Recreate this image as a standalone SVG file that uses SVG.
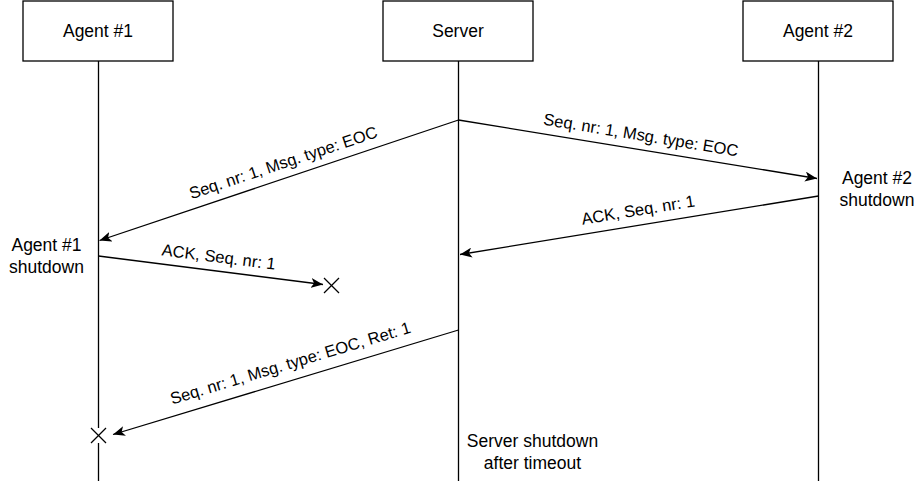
<svg xmlns="http://www.w3.org/2000/svg" width="923" height="483" viewBox="0 0 923 483">
  <style>
    .box { fill: #ffffff; stroke: #000000; stroke-width: 1.3; }
    .life { fill: none; stroke: #000000; stroke-width: 1.3; }
    .msg { fill: none; stroke: #000000; stroke-width: 1.3; marker-end: url(#arrow); }
    .xmark { fill: none; stroke: #000000; stroke-width: 1.3; }
    .t { font-family: "Liberation Sans", Arial, Helvetica, sans-serif; font-size: 17.5px; fill: #000000; text-anchor: middle; }
    .lbl { font-family: "Liberation Sans", Arial, Helvetica, sans-serif; font-size: 16.5px; fill: #000000; text-anchor: middle; }
  </style>
  <defs>
    <marker id="arrow" viewBox="0 0 12 10" refX="12" refY="5" markerWidth="12" markerHeight="10" markerUnits="userSpaceOnUse" orient="auto">
      <path d="M0,0 L12,5 L0,10 L3,5 Z" fill="#000000"/>
    </marker>
  </defs>
  <rect width="923" height="483" fill="#ffffff"/>

  <g id="agent1">
    <rect class="box" x="23" y="1" width="150" height="60"/>
    <text class="t" x="98" y="37">Agent #1</text>
    <line class="life" x1="98.5" y1="61" x2="98.5" y2="428"/>
    <line class="life" x1="98.5" y1="443" x2="98.5" y2="481"/>
  </g>
  <g id="server">
    <rect class="box" x="383" y="1" width="150" height="60"/>
    <text class="t" x="458" y="37">Server</text>
    <line class="life" x1="458.5" y1="61" x2="458.5" y2="481"/>
  </g>
  <g id="agent2">
    <rect class="box" x="743" y="1" width="150" height="60"/>
    <text class="t" x="818" y="37">Agent #2</text>
    <line class="life" x1="818.5" y1="61" x2="818.5" y2="481"/>
  </g>

  <g id="connectors">
    <line class="msg" x1="458.5" y1="120" x2="99.5" y2="240.5"/>
    <line class="msg" x1="458.5" y1="120" x2="817" y2="178.5"/>
    <line class="msg" x1="818.5" y1="196" x2="460" y2="254.5"/>
    <line class="msg" x1="98.5" y1="256" x2="323" y2="284.5"/>
    <line class="msg" x1="458.5" y1="330" x2="113" y2="434.5"/>
  </g>

  <g id="x-lost">
    <line class="xmark" x1="324" y1="278" x2="339" y2="293"/>
    <line class="xmark" x1="339" y1="278" x2="324" y2="293"/>
  </g>
  <g id="x-agent1">
    <line class="xmark" x1="91" y1="428" x2="106" y2="443"/>
    <line class="xmark" x1="106" y1="428" x2="91" y2="443"/>
  </g>

  <g id="labels">
    <text class="lbl" transform="translate(285,168) rotate(-18.43)">Seq. nr: 1, Msg. type: EOC</text>
    <text class="lbl" transform="translate(640,140.5) rotate(9.27)">Seq. nr: 1, Msg. type: EOC</text>
    <text class="lbl" transform="translate(639,215.5) rotate(-9.2)">ACK, Seq. nr: 1</text>
    <text class="lbl" transform="translate(218,262.5) rotate(7.2)">ACK, Seq. nr: 1</text>
    <text class="lbl" transform="translate(292,368.5) rotate(-16.75)">Seq. nr: 1, Msg. type: EOC, Ret: 1</text>
  </g>

  <g id="agent1-shutdown">
    <text class="t" x="46.5" y="251">Agent #1</text>
    <text class="t" x="46.5" y="273">shutdown</text>
  </g>
  <g id="agent2-shutdown">
    <text class="t" x="877" y="184">Agent #2</text>
    <text class="t" x="877" y="206">shutdown</text>
  </g>
  <g id="server-shutdown">
    <text class="t" x="532.5" y="447">Server shutdown</text>
    <text class="t" x="532.5" y="469">after timeout</text>
  </g>
</svg>
